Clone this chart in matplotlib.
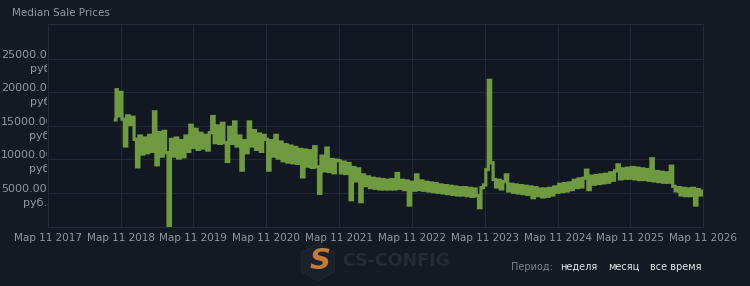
import numpy as np
import pandas as pd
import matplotlib
matplotlib.use("Agg")
import matplotlib.pyplot as plt
from matplotlib.patches import RegularPolygon
from matplotlib.transforms import Bbox, TransformedBbox

# median sale price (руб.), one list per market year (Mar 11 -> Mar 11)
prices_start = [15900, 20400, 16500, 20000]            # Feb 12 2018 -> Mar 11 2018
prices_2018 = [20000, 16000, 12000, 16500, 15200, 16300, 13000, 8900, 13500, 10800,
               13200, 11000, 13600, 11200, 17100, 9200, 14000, 10500, 14200, 11000,
               100, 13000, 10500, 13200, 10200, 12800, 10400, 13500, 11200, 15100]
prices_2019 = [11800, 14500, 11500, 13900, 11700, 13600, 11400, 14000, 16400, 12500,
               15000, 12400, 15400, 12500, 9700, 14800, 12400, 15600, 12000, 13500,
               8400, 12800, 11000, 15600, 12000, 14300, 11500, 13800, 11200, 13600]
prices_2020 = [13000, 8400, 12800, 10500, 13600, 10200, 12600, 9800, 12200, 9600,
               12000, 9500, 11800, 9400, 11500, 7400, 11400, 9000, 11300, 8800,
               11900, 8900, 4950, 10500, 8300, 11700, 8200, 10000, 8000, 9900]
prices_2021 = [9800, 8000, 9600, 7900, 9400, 4000, 8800, 6800, 8600, 3700,
               7700, 6100, 7400, 5800, 7200, 5700, 7100, 5600, 7000, 5600,
               6900, 5600, 7000, 5600, 7900, 5700, 6900, 5500, 6800, 3200]
prices_2022 = [6600, 5400, 7700, 5500, 6800, 5400, 6600, 5300, 6500, 5200,
               6400, 5100, 6200, 5000, 6100, 4900, 6000, 4800, 5900, 4700,
               5800, 4700, 5800, 4600, 5700, 4500, 5600, 4600, 2800, 5800]
prices_2023 = [6200, 8500, 21800, 9500, 7000, 5900, 6900, 5600, 6700, 7700,
               5300, 6300, 5100, 6200, 5000, 6100, 4900, 6000, 4800, 5900,
               4300, 5800, 4600, 5600, 4400, 5600, 4500, 5700, 4700, 5900]
prices_2024 = [5100, 6300, 5200, 6400, 5300, 6500, 5500, 6900, 5800, 7100,
               5900, 7200, 8400, 5500, 7500, 6300, 7600, 6400, 7700, 6500,
               7800, 6600, 8000, 6900, 8300, 9200, 7100, 8600, 7200, 8700]
prices_2025 = [7200, 8800, 7100, 8700, 7000, 8600, 7000, 8500, 6900, 10100,
               6800, 8200, 6700, 8100, 6600, 8000, 6600, 9000, 6000, 5300,
               5800, 4700, 5700, 4600, 5600, 4600, 5700, 3200, 5500, 4700, 5300]

years = list(range(2017, 2027))
tick_labels = [f"Мар 11 {y}" for y in years]
y_ticks = [5000, 10000, 15000, 20000, 25000]
y_labels = [f"{v:.2f}\nруб." for v in y_ticks]
period_labels = ["неделя", "месяц", "все время"]

bg = "#141a23"
plot_bg = "#121821"
grid_c = "#1f2937"
text_c = "#8f98a0"
line_c = "#6f9a3f"

# build dates for each block
blocks = [("2018-02-12", "2018-03-11", prices_start)]
yearly = [prices_2018, prices_2019, prices_2020, prices_2021,
          prices_2022, prices_2023, prices_2024, prices_2025]
for y, vals in zip(range(2018, 2026), yearly):
    blocks.append((f"{y}-03-11", f"{y+1}-03-11", vals))

dates, prices = [], []
for i, (s, e, vals) in enumerate(blocks):
    if i == len(blocks) - 1:
        d = pd.date_range(s, e, periods=len(vals))
    else:
        d = pd.date_range(s, e, periods=len(vals) + 1, inclusive="left")
    dates.extend(d)
    prices.extend(vals)
df = pd.DataFrame({"date": dates, "price": prices})

fig = plt.figure(figsize=(7.5, 2.86), dpi=100, facecolor=bg)
ax = fig.add_axes([48/750, 1 - 226.5/286, 655/750, 202.5/286])
ax.set_facecolor(plot_bg)

# dense daily series -> draw as steps so the noise fills a band like the original
ax.plot(df["date"], df["price"], color=line_c, lw=2.3, drawstyle="steps-mid",
        snap=False, solid_joinstyle="miter")

ax.set_xlim(pd.Timestamp("2017-03-11"), pd.Timestamp("2026-03-11"))
ax.set_ylim(0, 30200)
ax.set_xticks([pd.Timestamp(f"{y}-03-11") for y in years])
ax.set_xticklabels(tick_labels)
ax.set_yticks(y_ticks)
ax.set_yticklabels(y_labels)
ax.grid(True, color=grid_c, lw=0.8)
ax.set_axisbelow(True)
for sp in ax.spines.values():
    sp.set_color("#222b38")
    sp.set_linewidth(0.8)
ax.tick_params(length=0, colors=text_c, labelsize=7.5)
ax.tick_params(axis="x", pad=5)
ax.tick_params(axis="y", pad=0, labelsize=8)

# y labels sit in a 47px wide box left of the plot: right-aligned if they fit, else clipped
renderer = fig.canvas.get_renderer()
clip = TransformedBbox(Bbox([[0, 0], [47/750, 1]]), fig.transFigure)
for lab in ax.get_yticklabels():
    lab.set_multialignment("right")
    lab.set_linespacing(1.5)
    w = lab.get_window_extent(renderer).width
    if w <= 46:
        lab.set_horizontalalignment("right")
        lab.set_x(-1/655)
    else:
        lab.set_horizontalalignment("left")
        lab.set_x(-47/655)
    lab.set_clip_on(True)
    lab.set_clip_box(clip)

fig.text(12/750, 1 - 13/286, "Median Sale Prices", color=text_c, fontsize=7.5, va="center")

# watermark logo
hexa = RegularPolygon((318/100, (286 - 262)/100), numVertices=6, radius=0.19,
                      transform=fig.dpi_scale_trans, facecolor="#1b212a",
                      edgecolor="#20262f", lw=0.8)
fig.patches.append(hexa)
fig.text(320/750, 1 - 261/286, "S", color="#c57a35", fontsize=21, fontweight="bold",
         style="italic", ha="center", va="center")
fig.text(342/750, 1 - 261/286, "CS-CONFIG", color="#242b35", fontsize=12.5,
         fontweight="bold", ha="left", va="center")

# period selector
fig.text(511/750, 1 - 267/286, "Период:", color="#7d868f", fontsize=7, va="center")
xs = [560, 608, 650]
for x, t in zip(xs, period_labels):
    fig.text(x/750, 1 - 267/286, t, color="#e6e8ea", fontsize=7, va="center")

fig.savefig("out.png", dpi=100, facecolor=bg)
